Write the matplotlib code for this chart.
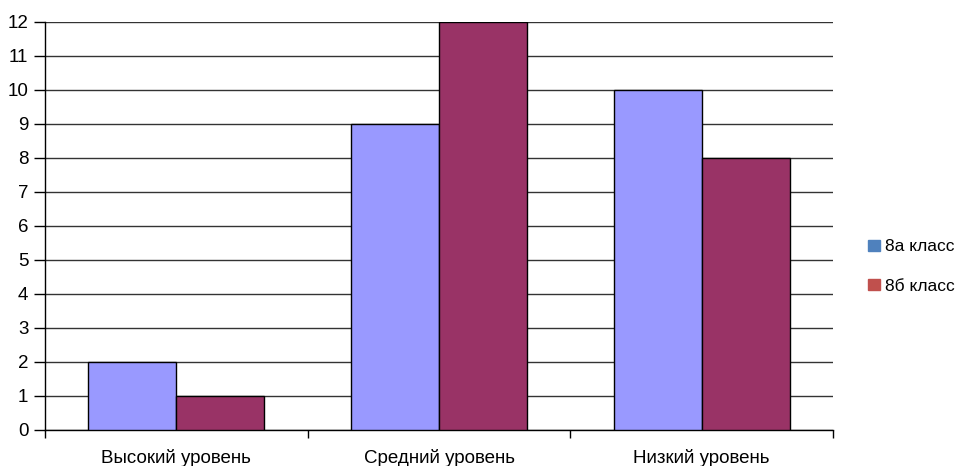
import matplotlib.pyplot as plt
import numpy as np
from matplotlib.patches import Patch

plt.rcParams['font.family'] = ['Liberation Sans', 'DejaVu Sans']

categories = ["Высокий уровень", "Средний уровень", "Низкий уровень"]
class_8a = [2, 9, 10]
class_8b = [1, 12, 8]
series_names = ["8а класс", "8б класс"]

fig = plt.figure(figsize=(9.55, 4.66), dpi=100)
ax = fig.add_axes([45 / 955, 1 - 430 / 466, (833 - 45) / 955, (430 - 22) / 466])

x = np.arange(len(categories))
w = 0.335
ax.bar(x - w / 2, class_8a, w, color='#9999ff', edgecolor='black', linewidth=1, zorder=3)
ax.bar(x + w / 2, class_8b, w, color='#993366', edgecolor='black', linewidth=1, zorder=3)

ax.set_xlim(-0.5, 2.5)
ax.set_ylim(0, 12)
ax.set_yticks(range(0, 13))
ax.yaxis.grid(True, color='#333333', linewidth=1, zorder=0)
ax.set_axisbelow(True)

ax.set_xticks(x)
ax.set_xticklabels(categories, fontsize=13.5)
ax.set_xticks([-0.5, 0.5, 1.5, 2.5], minor=True)
ax.tick_params(axis='x', which='major', length=0, pad=14)
ax.tick_params(axis='x', which='minor', length=6, width=1, direction='out')
ax.tick_params(axis='y', length=8, width=1, labelsize=13.5, pad=4)

for s in ['top', 'right']:
    ax.spines[s].set_visible(False)
ax.spines['left'].set_linewidth(1)
ax.spines['bottom'].set_linewidth(1)

handles = [Patch(color='#4f81bd'), Patch(color='#c0504d')]
fig.legend(handles, series_names, loc='center left', bbox_to_anchor=(0.893, 0.428),
           frameon=False, fontsize=12.5, handlelength=0.65, handleheight=0.65,
           handletextpad=0.3, labelspacing=1.4)

fig.savefig('out.png', dpi=100)
